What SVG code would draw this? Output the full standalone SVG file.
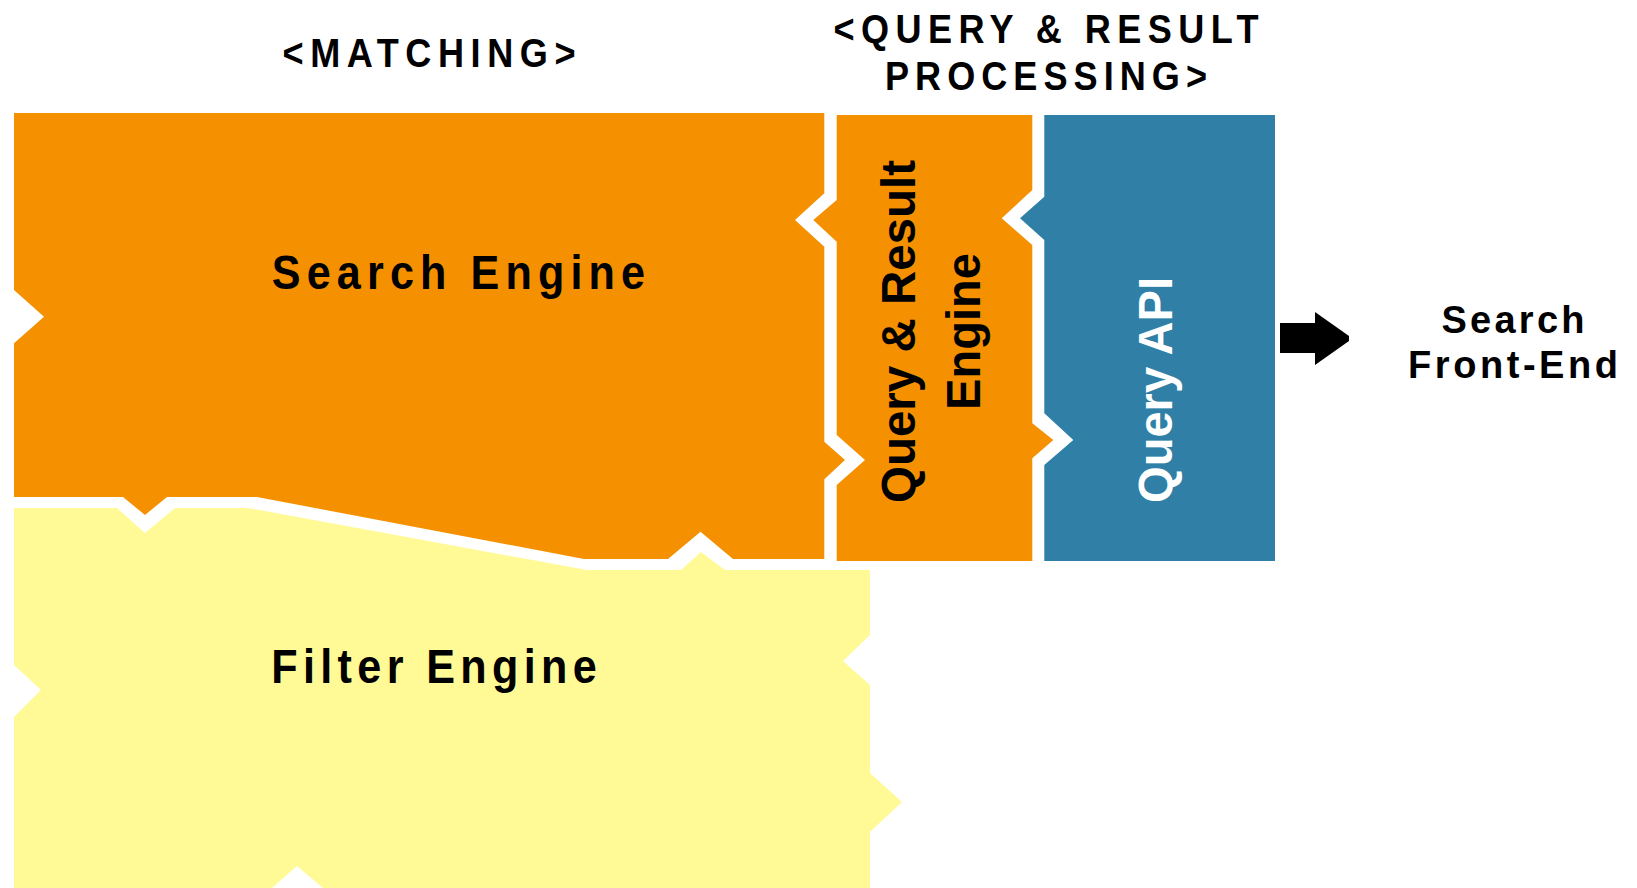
<svg xmlns="http://www.w3.org/2000/svg" width="1637" height="888" viewBox="0 0 1637 888">
<style>
.t{font-family:"Liberation Sans",Arial,sans-serif;font-weight:bold;fill:#000;text-anchor:middle}
.orange{fill:#F59100}
.yellow{fill:#FFFA96}
.blue{fill:#2F7FA7}
</style>
<rect width="1637" height="888" fill="#fff"/>
<g id="title-matching">
<text class="t" font-size="41" transform="translate(429,66.7) scale(0.88,1)" textLength="333" lengthAdjust="spacing">&lt;MATCHING&gt;</text>
</g>
<g id="title-query">
<text class="t" font-size="41" transform="translate(1046,42.7) scale(0.88,1)" textLength="483" lengthAdjust="spacing">&lt;QUERY &amp; RESULT</text>
<text class="t" font-size="41" transform="translate(1046,90) scale(0.88,1)" textLength="366" lengthAdjust="spacing">PROCESSING&gt;</text>
</g>
<g id="search-engine">
<path class="orange" d="M14,113 L824.3,113 L824.3,193.3 L795,220 L824.3,246.7 L824.3,441.7 L845,460 L824.3,479.3 L824.3,559 L733,559 L700.5,531.7 L668,559 L584,559 L257,497 L167,497 L145,515 L123,497 L14,497 L14,343.3 L44,316.7 L14,290 Z"/>
<text class="t" font-size="49" transform="translate(458.4,289.3) scale(0.88,1)" textLength="424" lengthAdjust="spacing">Search Engine</text>
</g>
<g id="filter-engine">
<path class="yellow" d="M14,508 L117,508 L145,533 L175,508 L248,508 L587,570 L681,570 L701,552 L725,570 L870,570 L870,635 L843,661 L870,685 L870,773 L902,802 L870,832 L870,888 L323,888 L297,866 L272,888 L14,888 L14,717 L41,690 L14,665 Z"/>
<text class="t" font-size="49" transform="translate(434,683) scale(0.88,1)" textLength="370" lengthAdjust="spacing">Filter Engine</text>
</g>
<g id="query-result-engine">
<path class="orange" d="M836.7,115 L1032.3,115 L1032.3,190 L1001.7,218.3 L1032.3,245 L1032.3,423.3 L1053.3,440 L1032.3,458.3 L1032.3,561 L836.7,561 L836.7,485 L865,460 L836.7,435 L836.7,241.7 L813.3,220 L836.7,200 Z"/>
<text class="t" font-size="48" transform="translate(915,331.5) rotate(-90)" textLength="343" lengthAdjust="spacingAndGlyphs">Query &amp; Result</text>
<text class="t" font-size="48" transform="translate(980,331.5) rotate(-90)" textLength="157" lengthAdjust="spacingAndGlyphs">Engine</text>
</g>
<g id="query-api">
<path class="blue" d="M1044.3,115 L1275,115 L1275,561 L1044.3,561 L1044.3,465 L1073.3,440 L1044.3,413.3 L1044.3,240 L1020,218.3 L1044.3,196.7 Z"/>
<text class="t" font-size="48" fill="#fff" style="fill:#fff" transform="translate(1171.7,390) rotate(-90)" textLength="226" lengthAdjust="spacingAndGlyphs">Query API</text>
</g>
<g id="connectors">
<polygon points="1280,323 1315,323 1315,312 1349,336 1349,341 1315,365 1315,353 1280,353" fill="#000"/>
</g>
<g id="search-front-end">
<text class="t" font-size="38" x="1513" y="333.3" textLength="143" lengthAdjust="spacing">Search</text>
<text class="t" font-size="38" x="1513" y="378.3" textLength="210" lengthAdjust="spacing">Front-End</text>
</g>
</svg>
